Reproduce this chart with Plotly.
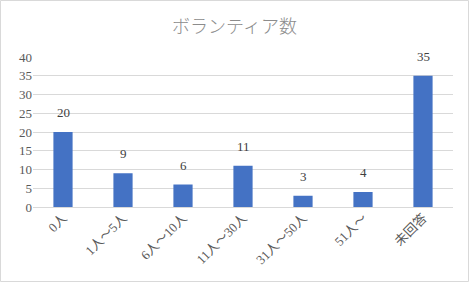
import plotly.graph_objects as go

categories = ["0人", "1人～5人", "6人～10人", "11人～30人", "31人～50人", "51人～", "未回答"]
values = [20, 9, 6, 11, 3, 4, 35]
y_ticks = [0, 5, 10, 15, 20, 25, 30, 35, 40]

fig = go.Figure()
fig.add_trace(go.Bar(
    x=categories, y=values, width=0.32,
    marker=dict(color="#4472C4", line=dict(width=0)),
))
for c, v in zip(categories, values):
    fig.add_annotation(x=c, y=v, text=str(v), showarrow=False, yanchor="bottom", yshift=10,
                       font=dict(family="Liberation Serif, Noto Sans CJK JP", size=13, color="#404040"))
fig.update_layout(
    width=469, height=282,
    margin=dict(l=33, r=16, t=57, b=75),
    paper_bgcolor="white", plot_bgcolor="white",
    title=dict(text="ボランティア数", x=0.5, xanchor="center", y=0.905, yanchor="middle",
               font=dict(family="Noto Sans CJK JP", size=18, color="#8c8c8c", weight=300)),
    showlegend=False,
    xaxis=dict(tickangle=-45, showgrid=False, showline=False, ticks="",
               tickfont=dict(family="Liberation Serif, Noto Sans CJK JP", size=13, color="#595959")),
    yaxis=dict(range=[0, 40], tickvals=y_ticks, showgrid=True, gridcolor="#d9d9d9", gridwidth=1,
               zeroline=True, zerolinecolor="#d9d9d9", zerolinewidth=1, ticks="",
               tickfont=dict(family="Liberation Serif, Noto Sans CJK JP", size=13, color="#595959")),
    shapes=[dict(type="rect", xref="paper", yref="paper", x0=-32.5/420, x1=1+15.5/420,
                 y0=-74.5/150, y1=1+56.5/150, line=dict(color="#d9d9d9", width=1))],
)
fig.write_html("out.html")
